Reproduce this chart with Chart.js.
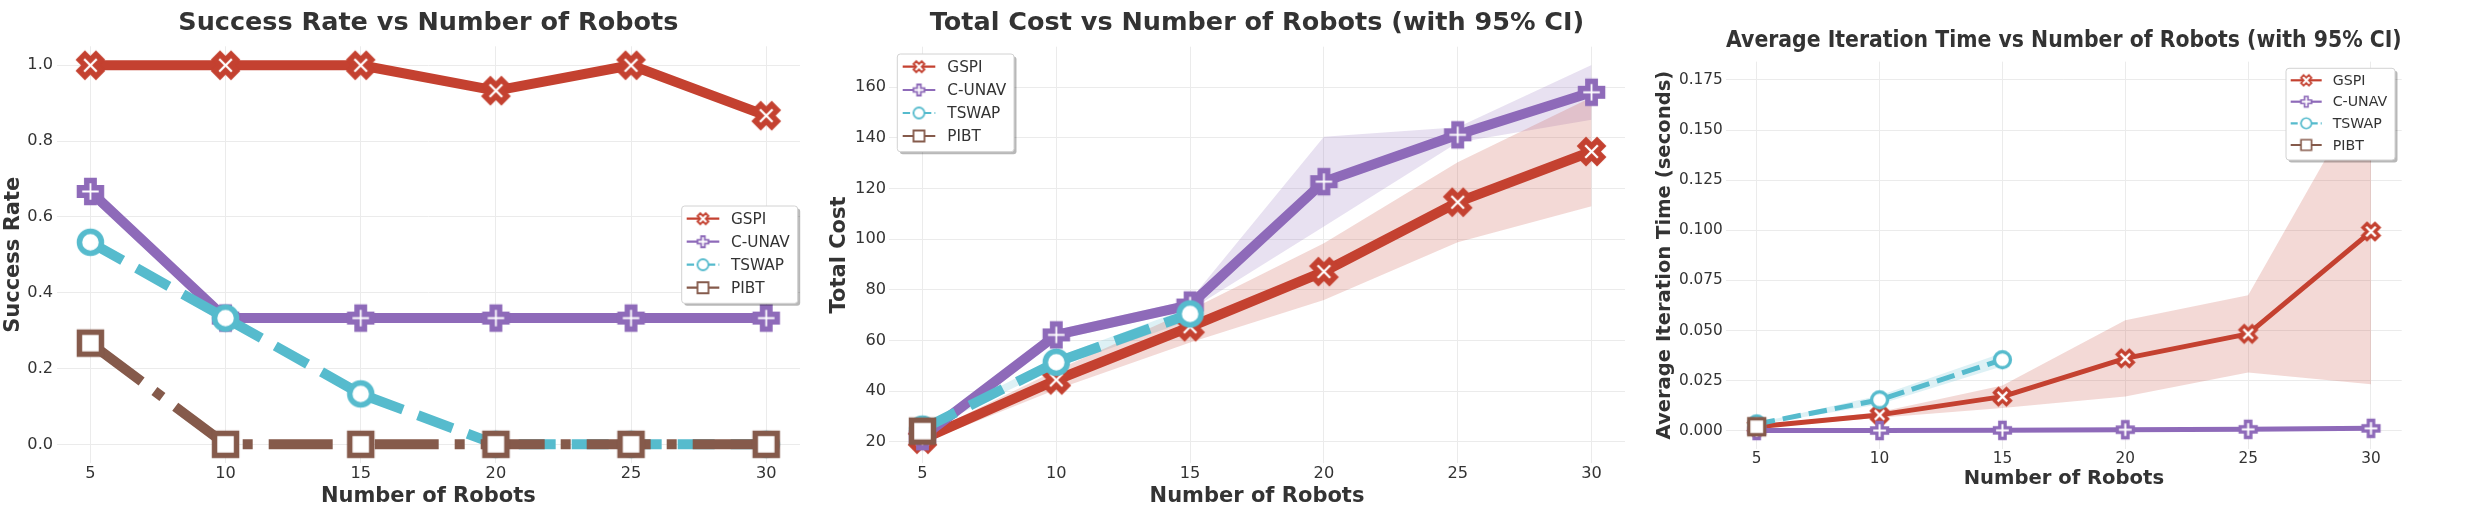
<!DOCTYPE html>
<html><head><meta charset="utf-8">
<script src="https://cdn.jsdelivr.net/npm/chart.js@4.4.1/dist/chart.umd.min.js"></script>
<style>
html,body{margin:0;padding:0;background:#fff;}
#wrap{position:relative;width:2473px;height:520px;overflow:hidden;background:#fff;}
.panel{position:absolute;top:0;height:520px;}
</style></head><body>
<div id="wrap">
<div class="panel" style="left:0px;width:820px"><canvas id="c1" width="820" height="520"></canvas></div>
<div class="panel" style="left:820px;width:825px"><canvas id="c2" width="825" height="520"></canvas></div>
<div class="panel" style="left:1645px;width:828px"><canvas id="c3" width="828" height="520"></canvas></div>
</div>
<script>
// ---------------- DATA ----------------
const robots = [5, 10, 15, 20, 25, 30];
const methods = ['GSPI', 'C-UNAV', 'TSWAP', 'PIBT'];
const xTicks = [5, 10, 15, 20, 25, 30];

const successGSPI  = [1.0, 1.0, 1.0, 0.933, 1.0, 0.867];
const successCUNAV = [0.667, 0.333, 0.333, 0.333, 0.333, 0.333];
const successTSWAP = [0.533, 0.333, 0.133, 0.0, 0.0, 0.0];
const successPIBT  = [0.267, 0.0, 0.0, 0.0, 0.0, 0.0];
const successTicks = [0.0, 0.2, 0.4, 0.6, 0.8, 1.0];

const costGSPI      = [21.0, 44.4, 65.4, 87.2, 114.6, 134.6];
const costGSPILow   = [19.5, 40.6, 59.2, 76.0, 98.8, 113.0];
const costGSPIHigh  = [22.5, 48.2, 72.0, 98.4, 130.4, 156.0];
const costCUNAV     = [22.0, 62.2, 74.0, 122.7, 141.2, 158.0];
const costCUNAVLow  = [21.0, 60.2, 72.0, 105.0, 138.2, 147.2];
const costCUNAVHigh = [23.0, 64.2, 76.0, 140.4, 144.2, 168.8];
const costTSWAP     = [25.0, 51.4, 70.5, null, null, null];
const costTSWAPLow  = [24.0, 49.4, 68.0, null, null, null];
const costTSWAPHigh = [26.0, 53.4, 73.0, null, null, null];
const costPIBT      = [24.2, null, null, null, null, null];
const costTicks     = [20, 40, 60, 80, 100, 120, 140, 160];

const timeGSPI      = [0.0021, 0.0080, 0.0171, 0.0362, 0.0484, 0.0994];
const timeGSPILow   = [0.0016, 0.0066, 0.0115, 0.0172, 0.0292, 0.0233];
const timeGSPIHigh  = [0.0026, 0.0094, 0.0227, 0.0552, 0.0676, 0.1755];
const timeCUNAV     = [0.0002, 0.0002, 0.0003, 0.0006, 0.0008, 0.0013];
const timeCUNAVLow  = [0.0001, 0.0001, 0.0002, 0.0005, 0.0007, 0.0011];
const timeCUNAVHigh = [0.0003, 0.0003, 0.0004, 0.0007, 0.0009, 0.0015];
const timeTSWAP     = [0.0035, 0.0155, 0.0355, null, null, null];
const timeTSWAPLow  = [0.0030, 0.0133, 0.0322, null, null, null];
const timeTSWAPHigh = [0.0040, 0.0177, 0.0388, null, null, null];
const timePIBT      = [0.0021, null, null, null, null, null];
const timeTicks     = [0.000, 0.025, 0.050, 0.075, 0.100, 0.125, 0.150, 0.175];

// ---------------- STYLE ----------------
const FONT = "'DejaVu Sans', sans-serif";
const TXT = '#333333';
const GRID = '#ebebeb';
const COLORS = {'GSPI': '#c44130', 'C-UNAV': '#8e6ab9', 'TSWAP': '#56bbcd', 'PIBT': '#855a4b'};
const SHAPES = {'GSPI': 'X', 'C-UNAV': 'P', 'TSWAP': 'o', 'PIBT': 's'};

function rgba(hex, a) {
  const n = parseInt(hex.slice(1), 16);
  return `rgba(${(n >> 16) & 255},${(n >> 8) & 255},${n & 255},${a})`;
}

function markerCanvas(shape, ms, ew, color) {
  const size = Math.ceil(ms * 1.1 + ew * 1.6 + 4);
  const c = document.createElement('canvas');
  c.width = size; c.height = size;
  const g = c.getContext('2d');
  g.translate(size / 2, size / 2);
  g.beginPath();
  if (shape === 'o') {
    g.arc(0, 0, ms / 2, 0, Math.PI * 2);
  } else if (shape === 's') {
    g.rect(-ms / 2, -ms / 2, ms, ms);
  } else if (shape === 'P') {
    const p = [[-1,-3],[1,-3],[1,-1],[3,-1],[3,1],[1,1],[1,3],[-1,3],[-1,1],[-3,1],[-3,-1],[-1,-1]];
    p.forEach(([x, y], i) => i ? g.lineTo(x * ms / 6, y * ms / 6) : g.moveTo(x * ms / 6, y * ms / 6));
    g.closePath();
  } else {
    const p = [[-1,-2],[0,-1],[1,-2],[2,-1],[1,0],[2,1],[1,2],[0,1],[-1,2],[-2,1],[-1,0],[-2,-1]];
    p.forEach(([x, y], i) => i ? g.lineTo(x * ms / 4, y * ms / 4) : g.moveTo(x * ms / 4, y * ms / 4));
    g.closePath();
  }
  g.fillStyle = '#ffffff'; g.fill();
  g.lineJoin = 'miter'; g.miterLimit = 10;
  g.lineWidth = ew; g.strokeStyle = color; g.stroke();
  return c;
}

function lineDS(name, ys, lw, dash, ms, ew, order) {
  const color = COLORS[name];
  return {
    label: name,
    data: robots.map((x, i) => ({x, y: ys[i]})),
    borderColor: color, backgroundColor: color,
    borderWidth: lw, borderDash: dash, borderCapStyle: 'butt', borderJoinStyle: 'round',
    pointStyle: markerCanvas(SHAPES[name], ms, ew, color),
    pointRadius: 10, pointHoverRadius: 10, pointHitRadius: 0,
    fill: false, tension: 0, spanGaps: false, order: order, clip: false
  };
}

function bandDS(name, lo, hi) {
  const color = COLORS[name];
  return [
    {label: name + ' lo', data: robots.map((x, i) => ({x, y: lo[i]})), borderWidth: 0,
     borderColor: 'rgba(0,0,0,0)', pointRadius: 0, fill: false, order: 30, tension: 0},
    {label: name + ' hi', data: robots.map((x, i) => ({x, y: hi[i]})), borderWidth: 0,
     borderColor: 'rgba(0,0,0,0)', pointRadius: 0, fill: '-1', backgroundColor: rgba(color, 0.2),
     order: 30, tension: 0}
  ];
}

const mplLegend = {
  id: 'mplLegend',
  afterDraw(chart, args, o) {
    if (!o || !o.box) return;
    const ctx = chart.ctx;
    const b = o.box;
    ctx.save();
    ctx.setLineDash([]);
    ctx.beginPath(); ctx.roundRect(b.x + 2.5, b.y + 2.5, b.w, b.h, 3);
    ctx.fillStyle = 'rgba(0,0,0,0.28)'; ctx.fill();
    ctx.beginPath(); ctx.roundRect(b.x, b.y, b.w, b.h, 3);
    ctx.fillStyle = '#ffffff'; ctx.fill();
    ctx.lineWidth = 1; ctx.strokeStyle = '#d2d2d2'; ctx.stroke();
    methods.forEach((m, i) => {
      const y = o.rows[i];
      ctx.beginPath();
      ctx.setLineDash(o.dashes[i]);
      ctx.lineCap = 'butt';
      ctx.strokeStyle = COLORS[m]; ctx.lineWidth = 2.2;
      ctx.moveTo(o.line0, y); ctx.lineTo(o.line1, y); ctx.stroke();
      ctx.setLineDash([]);
      const mk = markerCanvas(SHAPES[m], o.ms, o.ew, COLORS[m]);
      const cx = (o.line0 + o.line1) / 2;
      ctx.drawImage(mk, cx - mk.width / 2, y - mk.height / 2);
      ctx.fillStyle = TXT;
      ctx.font = `${o.fontSize}px ${FONT}`;
      ctx.textBaseline = 'middle'; ctx.textAlign = 'left';
      ctx.fillText(m, o.textX, y + 1);
    });
    ctx.restore();
  }
};

function makeChart(id, p) {
  const ctx = document.getElementById(id);
  return new Chart(ctx, {
    type: 'line',
    data: {datasets: p.datasets},
    plugins: [mplLegend],
    options: {
      responsive: false, animation: false,
      events: [],
      layout: {padding: {left: 0, right: p.padRight, top: 0, bottom: 0}},
      plugins: {
        legend: {display: false}, tooltip: {enabled: false},
        title: {display: true, text: p.title, color: TXT, fullSize: false,
                font: {family: FONT, size: p.titleSize, weight: 'bold', lineHeight: 1.2},
                padding: {top: p.titlePadTop, bottom: p.titlePadBottom}},
        mplLegend: p.legend
      },
      scales: {
        x: {
          type: 'linear', min: p.xmin, max: p.xmax,
          afterBuildTicks: s => { s.ticks = xTicks.map(v => ({value: v})); },
          afterFit: s => { s.height = p.xH; },
          ticks: {font: {family: FONT, size: p.tickSize}, color: TXT, padding: 1, maxRotation: 0,
                  autoSkip: false, callback: v => String(v)},
          grid: {color: GRID, lineWidth: 1, drawTicks: false},
          border: {display: false},
          title: {display: true, text: 'Number of Robots', color: TXT,
                  font: {family: FONT, size: p.labelSize, weight: 'bold', lineHeight: 1.2},
                  padding: {top: 0, bottom: p.xTitlePad}}
        },
        y: {
          type: 'linear', min: p.ymin, max: p.ymax,
          afterBuildTicks: s => { s.ticks = p.yTicks.map(v => ({value: v})); },
          afterFit: s => { s.width = p.yW; },
          ticks: {font: {family: FONT, size: p.tickSize}, color: TXT, padding: p.yTickPad,
                  autoSkip: false, callback: v => v.toFixed(p.yDec)},
          grid: {color: GRID, lineWidth: 1, drawTicks: false},
          border: {display: false},
          title: {display: true, text: p.yTitle, color: TXT,
                  font: {family: FONT, size: p.labelSize, weight: 'bold', lineHeight: 1.2},
                  padding: {top: p.yTitlePad, bottom: 0}}
        }
      }
    }
  });
}

// Panel 1: success rate
makeChart('c1', {
  title: 'Success Rate vs Number of Robots', titleSize: 25.5, titlePadTop: 8.5, titlePadBottom: 7.2,
  yTitle: 'Success Rate', labelSize: 21, tickSize: 16.2,
  xmin: 3.75, xmax: 31.25, ymin: -0.05, ymax: 1.05, yTicks: successTicks, yDec: 1,
  yW: 56.6, xH: 56.7, padRight: 14.3, yTickPad: 3.5, yTitlePad: 1.2, xTitlePad: 11,
  datasets: [
    lineDS('GSPI', successGSPI, 10, [], 22, 5.5, 4),
    lineDS('C-UNAV', successCUNAV, 10, [], 22, 5.5, 3),
    lineDS('TSWAP', successTSWAP, 10, [37, 16], 22, 5.5, 2),
    lineDS('PIBT', successPIBT, 10, [64, 16, 10, 16], 22, 5.5, 1)
  ],
  legend: {box: {x: 681.7, y: 206, w: 116, h: 97.3}, rows: [218.7, 241.7, 264.7, 287.7],
           line0: 686.7, line1: 719.3, textX: 731, fontSize: 15.3, ms: 11, ew: 1.8,
           dashes: [[], [], [7.4, 3.2], [12.8, 3.2, 2, 3.2]]}
});

// Panel 2: total cost
makeChart('c2', {
  title: 'Total Cost vs Number of Robots (with 95% CI)', titleSize: 25.5, titlePadTop: 8.5, titlePadBottom: 7.6,
  yTitle: 'Total Cost', labelSize: 21, tickSize: 16.2,
  xmin: 3.75, xmax: 31.25, ymin: 11.5, ymax: 176.0, yTicks: costTicks, yDec: 0,
  yW: 69, xH: 56.7, padRight: 13.6, yTickPad: 3, yTitlePad: 6.7, xTitlePad: 11,
  datasets: [
    lineDS('GSPI', costGSPI, 10, [], 22, 5.5, 4),
    lineDS('C-UNAV', costCUNAV, 10, [], 22, 5.5, 3),
    lineDS('TSWAP', costTSWAP, 10, [37, 16], 22, 5.5, 2),
    lineDS('PIBT', costPIBT, 10, [64, 16, 10, 16], 22, 5.5, 1),
    ...bandDS('GSPI', costGSPILow, costGSPIHigh),
    ...bandDS('C-UNAV', costCUNAVLow, costCUNAVHigh),
    ...bandDS('TSWAP', costTSWAPLow, costTSWAPHigh)
  ],
  legend: {box: {x: 77.3, y: 54, w: 116.7, h: 97.7}, rows: [66.7, 90, 113, 136],
           line0: 82.7, line1: 115.3, textX: 127.3, fontSize: 15.3, ms: 11, ew: 1.8,
           dashes: [[], [], [7.4, 3.2], [12.8, 3.2, 2, 3.2]]}
});

// Panel 3: iteration time
makeChart('c3', {
  title: 'Average Iteration Time vs Number of Robots (with 95% CI)', titleSize: 23.8, titlePadTop: 26.3, titlePadBottom: 6.8,
  yTitle: 'Average Iteration Time (seconds)', labelSize: 19.6, tickSize: 15.3,
  xmin: 3.75, xmax: 31.25, ymin: -0.0088, ymax: 0.1841, yTicks: timeTicks, yDec: 3,
  yW: 81, xH: 71.4, padRight: 71.3, yTitlePad: 8.5, yTickPad: 3.3, xTitlePad: 29.2,
  datasets: [
    lineDS('GSPI', timeGSPI, 5, [], 16, 3.3, 4),
    lineDS('C-UNAV', timeCUNAV, 5, [], 16, 3.3, 3),
    lineDS('TSWAP', timeTSWAP, 5, [18.5, 8], 16, 3.3, 2),
    lineDS('PIBT', timePIBT, 5, [32, 8, 5, 8], 16, 3.3, 1),
    ...bandDS('GSPI', timeGSPILow, timeGSPIHigh),
    ...bandDS('C-UNAV', timeCUNAVLow, timeCUNAVHigh),
    ...bandDS('TSWAP', timeTSWAPLow, timeTSWAPHigh)
  ],
  legend: {box: {x: 641, y: 68.3, w: 109, h: 91.7}, rows: [80.3, 101.7, 123.3, 145],
           line0: 645.7, line1: 676.7, textX: 687.7, fontSize: 14.2, ms: 10.5, ew: 1.7,
           dashes: [[], [], [7, 3], [12, 3, 2, 3]]}
});
</script>
</body></html>
